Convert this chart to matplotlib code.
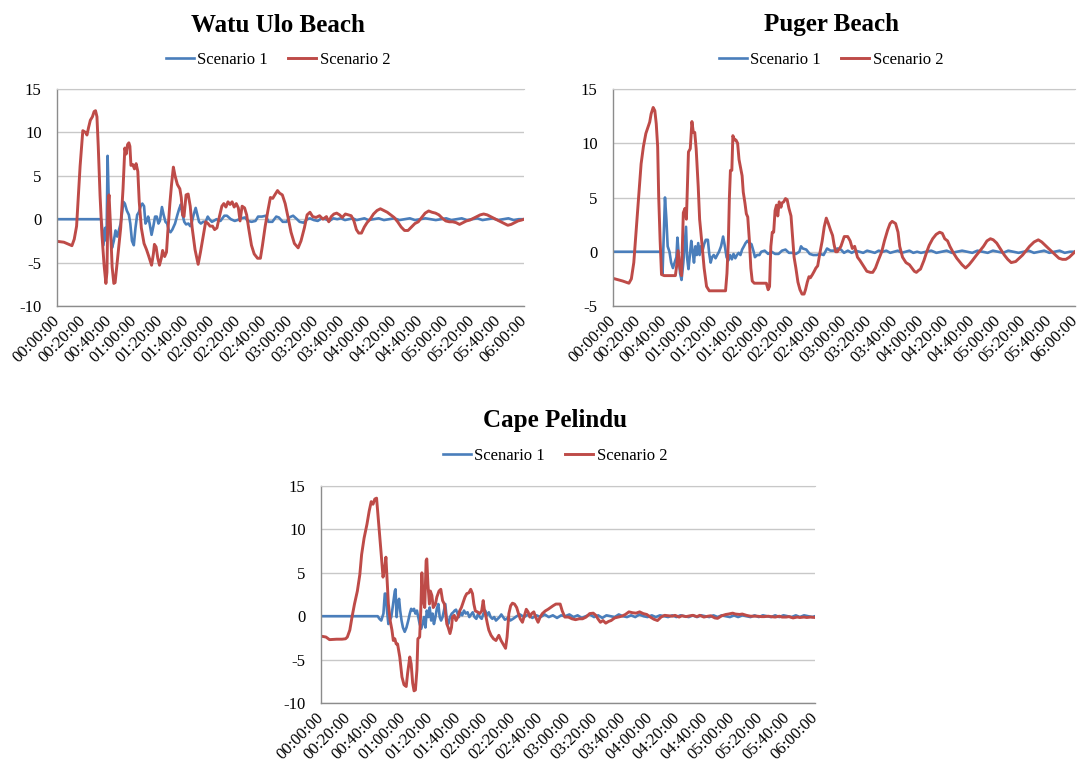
import matplotlib
matplotlib.use("Agg")
import matplotlib.pyplot as plt
import numpy as np

plt.rcParams.update({"font.family": "serif",
                     "font.serif": ["Liberation Serif", "DejaVu Serif"],
                     "axes.unicode_minus": False})

W, H = 1077, 764
BLUE, RED = "#4A7EBB", "#BE4B48"
GRID, AXIS = "#C8C8C8", "#8C8C8C"

# water level (m) against elapsed time (minutes), (t, value) pairs
WATU_S1 = [(0, 0), (34.0, 0), (34.5, -0.5), (35.8, -3.0), (37.1, -1.0), (38.2, -2.5), (39.0, 7.3),
           (40.1, 1.0), (41.1, -1.5), (42.4, -3.3), (43.8, -2.5), (45.1, -1.3), (46.4, -2.0),
           (47.7, -1.3), (49.1, -0.5), (50.4, 1.0), (51.2, 2.0), (52.3, 1.8), (53.8, 1.0), (55.4, 0.5),
           (56.5, -0.5), (57.8, -2.5), (59.2, -3.0), (60.5, -1.0), (61.8, 0.5), (63.1, 0.8), (64.5, 1.5),
           (65.8, 1.8), (67.1, 1.5), (68.2, -0.5), (69.2, -0.2), (70.3, 0.3), (71.4, -0.5), (72.9, -1.8),
           (74.3, -0.8), (75.6, 0.3), (76.9, 0.3), (78.2, -0.5), (79.3, -0.2), (80.9, 1.4), (82.2, 0.5),
           (83.6, -0.3), (84.9, -0.5), (86.2, -1.3), (87.5, -1.5), (88.9, -1.2), (91.0, -0.5),
           (92.8, 0.5), (94.2, 1.2), (95.5, 1.7), (96.8, 0.5), (98.1, -0.3), (99.5, -0.6), (101.3, -0.5),
           (102.7, -0.8), (104.0, -0.3), (105.3, 0.5), (106.9, 1.3), (108.2, 0.5), (109.5, -0.3),
           (110.9, -0.5), (112.7, -0.3), (114.6, -0.3), (116.2, 0.3), (117.5, 0.0), (119.4, -0.3),
           (120.7, -0.2), (123, 0.0), (126, -0.2), (129, 0.4), (131, 0.4), (134, 0.0), (137, -0.2),
           (139, -0.1), (142, 0.1), (145, 0.2), (147, -0.2), (150, -0.3), (153, -0.2), (155, 0.3),
           (158, 0.3), (161, 0.4), (163, -0.3), (166, -0.3), (169, 0.3), (171, 0.2), (174, -0.3),
           (177, -0.3), (179, 0.2), (182, 0.4), (185, 0.0), (187, -0.3), (190, -0.4), (193, 0.0),
           (195, 0.1), (198, -0.1), (201, -0.2), (204, 0.1), (207, 0.0), (210, -0.2), (213, 0.1),
           (216, 0.0), (219, 0.1), (222, -0.1), (225, 0.0), (228, 0.1), (231, -0.1), (234, 0.0),
           (237, 0.1), (240, -0.1), (244, 0.0), (248, 0.1), (252, -0.1), (256, 0.0), (260, 0.1),
           (264, -0.1), (268, 0.0), (272, 0.1), (276, -0.1), (280, 0.0), (284, 0.1), (288, 0.0),
           (292, -0.1), (296, 0.0), (300, 0.1), (304, -0.1), (308, 0.0), (312, 0.1), (316, -0.1),
           (320, 0.0), (324, 0.1), (328, -0.1), (332, 0.0), (336, 0.1), (340, -0.1), (344, 0.0),
           (348, 0.1), (352, -0.1), (356, 0.0), (360, 0.0)]

WATU_S2 = [(0, -2.55), (5.3, -2.65), (9.3, -2.9), (11.5, -3.05), (13.3, -2.3), (15.1, -0.8), (16.7, 3.4),
           (17.8, 6.1), (19.9, 10.2), (22.0, 10.0), (23.1, 9.7), (24.4, 10.6), (25.7, 11.4), (27.3, 11.8),
           (28.6, 12.4), (29.7, 12.5), (30.8, 11.8), (31.8, 8.4), (33.2, 2.7), (34.7, -1.9), (36.3, -5.3),
           (37.7, -7.4), (38.5, -6.1), (39.3, 1.5), (40.1, 2.8), (41.0, 0.0), (42.5, -5.5), (43.8, -7.4),
           (44.8, -7.3), (46.4, -5.0), (49.1, -1.0), (50.9, 3.5), (52.3, 8.2), (53.3, 7.5), (54.4, 8.6),
           (55.4, 8.8), (56.2, 8.4), (57.0, 6.2), (58.4, 6.3), (59.7, 5.8), (61.0, 6.4), (62.3, 5.5),
           (63.4, 2.0), (65.0, -1.0), (67.1, -2.8), (69.0, -3.5), (70.8, -4.3), (72.9, -5.3), (74.3, -4.0),
           (75.1, -2.9), (76.4, -3.2), (77.7, -4.5), (79.0, -5.3), (80.4, -4.5), (81.4, -3.6), (83.0, -4.3),
           (84.4, -3.8), (85.4, -1.5), (87.0, 1.8), (88.3, 4.0), (89.7, 6.0), (91.0, 5.0), (92.8, 4.0),
           (94.7, 3.5), (95.8, 2.5), (96.8, 0.5), (97.9, 0.3), (99.5, 2.8), (101.1, 2.9), (102.7, 1.5),
           (104.2, -1.0), (106.4, -3.5), (108.8, -5.2), (110.6, -3.8), (112.7, -2.0), (114.6, -0.3),
           (116.4, -0.5), (118.0, -0.8), (119.9, -0.8), (121.5, -1.2), (123.3, -1.0), (125.2, 0.3),
           (127.1, 1.5), (128.6, 1.8), (130.2, 1.4), (131.8, 2.0), (133.4, 1.7), (135.0, 2.0), (136.6, 1.4),
           (138.2, 1.8), (139.8, 1.3), (141.1, -0.2), (142.7, 1.5), (144.6, 1.3), (146.2, 0.5),
           (147.7, -1.0), (149.9, -3.0), (152.0, -4.0), (154.6, -4.5), (156.8, -4.5), (158.4, -3.0),
           (160.5, -0.8), (162.6, 1.0), (164.5, 2.5), (166.3, 2.4), (167.9, 2.8), (170.0, 3.3),
           (171.6, 3.0), (173.7, 2.8), (175.9, 1.8), (178.0, 0.3), (180.4, -1.5), (183.0, -2.8),
           (185.9, -3.3), (188.1, -2.5), (190.7, -1.0), (192.8, 0.5), (195.0, 0.8), (197.1, 0.3),
           (199.7, 0.2), (202.4, 0.4), (205.0, 0.0), (207.7, 0.3), (209.5, -0.3), (211.4, 0.3),
           (213.5, 0.6), (215.6, 0.7), (217.8, 0.5), (219.9, 0.2), (222.3, 0.6), (224.7, 0.5),
           (226.8, 0.4), (228.9, -0.2), (230.8, -1.2), (232.6, -1.6), (234.7, -1.6), (236.9, -0.9),
           (239.0, -0.4), (241.4, 0.0), (244.0, 0.6), (246.7, 1.0), (249.3, 1.2), (252.0, 1.0),
           (254.6, 0.8), (257.3, 0.5), (259.9, 0.2), (262.6, -0.3), (265.3, -0.9), (267.9, -1.3),
           (270.6, -1.3), (273.2, -0.9), (275.9, -0.5), (278.5, -0.3), (281.2, 0.2), (283.8, 0.7),
           (286.5, 0.95), (289.1, 0.8), (291.8, 0.7), (294.4, 0.5), (297.1, 0.1), (299.7, -0.2),
           (302.4, -0.3), (305.0, -0.3), (307.7, -0.4), (310.3, -0.6), (313.0, -0.4), (315.6, -0.2),
           (318.3, -0.1), (321.0, 0.1), (323.6, 0.3), (326.3, 0.5), (328.9, 0.6), (331.6, 0.5),
           (334.2, 0.3), (336.9, 0.1), (339.5, -0.1), (342.2, -0.3), (344.8, -0.5), (347.5, -0.7),
           (350.1, -0.6), (352.8, -0.4), (355.4, -0.2), (358.1, -0.1), (360, 0.0)]

PUGER_S1 = [(0, 0), (37.8, 0), (38.6, -2.0), (40.5, 5.0), (41.6, 3.0), (42.6, 0.5), (44.0, 0.0),
            (45.3, -1.0), (46.7, -1.5), (48.0, -1.0), (49.4, -0.5), (50.2, 1.3), (51.3, -0.5),
            (52.3, -2.0), (53.4, -2.6), (54.8, -1.0), (56.9, 2.3), (57.7, -0.5), (58.8, -1.6),
            (60.2, 0.0), (61.0, 1.0), (62.1, 0.0), (63.1, -1.0), (64.2, 0.5), (65.3, -0.3), (66.4, 0.8),
            (67.5, -0.3), (68.5, 0.5), (69.6, 0.0), (71.0, 0.7), (72.3, 1.1), (73.9, 1.1), (75.0, -0.2),
            (76.1, -1.0), (77.2, -0.5), (78.5, -0.3), (79.9, -0.6), (81.2, -0.3), (82.6, 0.0),
            (84.2, 0.5), (85.8, 1.4), (87.2, 0.5), (88.5, -0.5), (89.9, -0.8), (91.2, -0.3),
            (92.6, -0.7), (93.9, -0.2), (95.3, -0.6), (96.6, -0.3), (97.9, -0.1), (99.3, -0.3),
            (100.6, 0.2), (102.0, 0.5), (103.3, 0.8), (104.7, 1.0), (106.3, 0.8), (107.9, 0.7),
            (109.6, 0.0), (110.6, -0.5), (112.3, -0.3), (114.1, -0.3), (115.5, 0.0), (118.2, 0.1),
            (120.9, -0.2), (123.6, 0.0), (126.3, -0.2), (129.0, -0.2), (131.7, 0.1), (134.4, 0.2),
            (137.1, -0.1), (139.8, -0.1), (142.5, -0.2), (145.2, 0.0), (146.5, 0.5), (147.9, 0.3),
            (150.6, 0.2), (153.3, -0.2), (156.0, -0.3), (158.7, -0.3), (161.4, -0.2), (164.1, -0.3),
            (166.8, 0.3), (169.5, 0.1), (172.2, 0.1), (174.8, 0.3), (177.6, 0.2), (180, -0.1),
            (183, 0.1), (186, -0.1), (189, 0.1), (192, 0.0), (195, -0.1), (198, 0.1), (201, 0.0),
            (204, -0.1), (207, 0.1), (210, 0.0), (213, 0.1), (216, -0.1), (219, 0.0), (222, 0.1),
            (225, -0.1), (228, 0.0), (231, 0.1), (234, -0.1), (237, 0.0), (240, -0.1), (244, 0.0),
            (248, 0.1), (252, -0.1), (256, 0.0), (260, 0.1), (264, -0.1), (268, 0.0), (272, 0.1),
            (276, 0.0), (280, -0.1), (284, 0.1), (288, 0.0), (292, -0.1), (296, 0.1), (300, 0.0),
            (304, -0.1), (308, 0.1), (312, 0.0), (316, -0.1), (320, 0.0), (324, 0.1), (328, -0.1),
            (332, 0.0), (336, 0.1), (340, -0.1), (344, 0.0), (348, 0.1), (352, -0.1), (356, 0.0),
            (360, 0.0)]

PUGER_S2 = [(0, -2.45), (7.6, -2.7), (12.4, -2.9), (14.3, -2.5), (16.2, -1.0), (18.3, 2.3), (20.2, 5.4),
            (21.9, 8.1), (23.7, 9.7), (25.6, 10.9), (27.3, 11.5), (28.6, 11.95), (29.7, 12.7),
            (31.3, 13.3), (32.6, 13.0), (33.7, 11.8), (34.8, 9.7), (35.6, 5.1), (36.7, 1.1),
            (37.8, -2.1), (39.9, -2.2), (44.0, -2.2), (48.6, -2.2), (49.6, -1.3), (50.7, 0.1),
            (52.1, -1.5), (53.4, -2.2), (54.8, 3.6), (56.1, 4.0), (57.2, 3.0), (58.8, 9.2), (60.2, 9.5),
            (61.5, 12.0), (62.6, 11.0), (63.7, 11.0), (64.8, 9.5), (66.4, 6.0), (67.5, 3.0), (69.1, 1.0),
            (71.0, -1.5), (72.9, -3.2), (75.0, -3.6), (83.1, -3.6), (87.7, -3.6), (88.8, -2.0),
            (89.9, 1.0), (90.7, 5.0), (91.5, 7.5), (92.6, 7.5), (93.4, 10.7), (94.7, 10.3), (95.8, 10.3),
            (97.1, 10.0), (98.2, 8.5), (99.3, 7.8), (100.6, 7.0), (101.5, 5.5), (102.8, 4.5),
            (103.9, 3.5), (105.0, 3.2), (106.3, 1.0), (107.4, -1.5), (108.5, -2.7), (110.1, -2.9),
            (115.5, -2.9), (119.5, -2.9), (120.9, -3.5), (122.0, -3.2), (123.0, 0.5), (124.1, 1.8),
            (125.2, 1.8), (126.3, 3.8), (127.4, 4.3), (128.4, 3.3), (129.5, 4.6), (130.9, 4.1),
            (131.7, 4.5), (133.0, 4.6), (134.4, 4.9), (135.7, 4.8), (137.1, 4.0), (138.7, 3.3),
            (139.8, 1.5), (141.1, -0.5), (142.5, -1.5), (144.1, -2.8), (145.7, -3.5), (147.3, -3.9),
            (148.9, -3.9), (150.0, -3.5), (151.4, -2.8), (152.7, -2.3), (153.8, -2.4), (155.4, -2.1),
            (156.8, -1.8), (158.1, -1.5), (159.5, -1.3), (161.4, 0.0), (163.0, 1.0), (164.6, 2.3),
            (166.2, 3.1), (167.8, 2.6), (169.5, 2.0), (171.1, 1.5), (172.2, 0.7), (173.5, 0.0),
            (174.8, 0.0), (177.6, 0.5), (180.2, 1.4), (182.9, 1.4), (184.8, 1.0), (186.5, 0.3),
            (188.3, 0.5), (190.5, -0.5), (192.4, -0.8), (195.1, -1.3), (197.8, -1.8), (200.5, -1.9),
            (202.4, -1.9), (204.5, -1.5), (206.7, -0.8), (209.4, 0.0), (211.5, 1.0), (214.0, 2.0),
            (215.9, 2.6), (217.5, 2.8), (220.2, 2.6), (222.1, 1.8), (223.4, 0.5), (225.6, -0.5),
            (228.3, -1.0), (231.0, -1.2), (232.9, -1.5), (234.8, -1.8), (236.4, -1.9), (238.3, -1.7),
            (239.6, -1.6), (242.3, -0.8), (244.5, 0.0), (246.4, 0.6), (249.1, 1.2), (251.8, 1.6),
            (254.5, 1.8), (256.6, 1.7), (258.5, 1.2), (260.7, 1.0), (262.5, 0.5), (265.2, -0.1),
            (267.9, -0.6), (272.0, -1.2), (274.7, -1.5), (277.4, -1.2), (280.1, -0.8), (283.3, -0.3),
            (286.0, 0.1), (288.7, 0.5), (291.4, 1.0), (294.1, 1.2), (296.3, 1.1), (299.0, 0.8),
            (301.7, 0.3), (304.9, -0.3), (307.6, -0.7), (310.3, -1.0), (313.8, -0.9), (316.5, -0.6),
            (319.2, -0.3), (321.9, 0.1), (324.6, 0.5), (328.1, 0.9), (331.4, 1.1), (334.1, 0.9),
            (336.7, 0.6), (339.4, 0.3), (342.1, 0.0), (344.8, -0.3), (347.5, -0.6), (350.2, -0.7),
            (352.9, -0.7), (355.6, -0.5), (358.3, -0.2), (360, 0.0)]

PELINDU_S1 = [(0, 0), (41.3, 0), (42.6, -0.3), (43.9, -0.5), (45.5, 0.3), (46.5, 2.6), (47.3, 2.6),
              (48.1, 0.65), (49.1, -0.9), (50.1, -0.5), (51.2, -0.1), (52.2, 1.0), (53.8, 2.9),
              (54.3, 3.1), (55.1, -0.1), (55.8, 1.4), (56.9, 2.0), (57.7, 0.65), (58.7, -0.5),
              (59.7, -1.3), (61.0, -1.8), (62.3, -1.3), (63.6, -0.5), (64.7, 0.3), (65.7, 0.85),
              (66.8, 0.65), (67.8, 0.85), (68.8, 0.3), (69.9, 0.65), (70.9, -0.1), (71.9, -0.9),
              (73.0, -1.45), (74.0, -0.9), (75.1, -0.1), (76.1, -1.3), (77.1, 0.65), (78.2, -0.1),
              (79.2, 1.0), (80.3, -0.5), (81.3, 0.3), (82.3, -0.9), (83.4, -0.1), (84.4, 0.85),
              (85.5, 1.4), (86.5, -0.1), (87.5, -0.5), (88.6, -0.1), (89.6, 0.65), (90.6, 1.4),
              (91.7, -0.5), (92.7, -0.9), (94.0, -0.1), (95.3, 0.3), (96.4, 0.45), (97.4, 0.65),
              (98.4, 0.75), (99.5, 0.3), (100.5, -0.1), (101.6, 0.45), (102.9, 0.1), (104.2, 0.65),
              (105.5, 0.3), (106.8, 0.45), (108.1, -0.1), (109.4, 0.2), (110.6, 0.45), (111.9, -0.1),
              (113.2, -0.3), (114.5, 0.3), (115.8, -0.1), (117.1, -0.3), (118.4, 0.3), (119.7, 0.65),
              (121.0, 0.1), (122.3, 0.45), (123.6, -0.1), (124.9, -0.3), (126.2, -0.1), (127.5, -0.5),
              (128.8, -0.3), (130.1, -0.1), (131.4, 0.2), (132.7, -0.1), (134.0, -0.4), (135.3, -0.3),
              (136.6, -0.1), (137.9, -0.5), (140.0, -0.3), (142.6, 0.0), (145, 0.2), (148, -0.1),
              (151, 0.2), (154, -0.2), (157, 0.1), (160, -0.1), (163, 0.2), (166, -0.1), (169, 0.1),
              (172, -0.2), (175, 0.1), (178, 0.0), (181, 0.2), (184, -0.1), (187, 0.1), (190, -0.2),
              (193, 0.0), (196, 0.2), (199, -0.1), (202, 0.1), (205, -0.2), (208, 0.1), (211, 0.0),
              (214, -0.1), (217, 0.2), (220, 0.0), (223, -0.1), (226, 0.1), (229, -0.1), (232, 0.2),
              (235, 0.0), (238, -0.1), (241, 0.1), (244, -0.1), (247, 0.1), (250, 0.0), (253, -0.1),
              (256, 0.1), (259, -0.1), (262, 0.1), (265, 0.0), (268, -0.1), (271, 0.1), (274, -0.1),
              (277, 0.1), (280, 0.0), (283, -0.1), (286, 0.1), (289, -0.1), (292, 0.1), (295, 0.0),
              (298, -0.1), (301, 0.1), (304, -0.1), (307, 0.1), (310, 0.0), (313, -0.1), (316, 0.1),
              (319, -0.1), (322, 0.1), (325, 0.0), (328, -0.1), (331, 0.1), (334, -0.1), (337, 0.1),
              (340, 0.0), (343, -0.1), (346, 0.1), (349, -0.1), (352, 0.1), (355, 0.0), (358, -0.1),
              (360, 0.0)]

PELINDU_S2 = [(0, -2.3), (3.6, -2.4), (6.2, -2.7), (11.4, -2.65), (15.3, -2.65), (17.9, -2.6),
              (19.2, -2.4), (21.0, -1.6), (22.6, -0.1), (24.4, 1.4), (26.5, 2.9), (28.3, 4.8),
              (29.6, 7.1), (31.4, 9.0), (33.5, 10.6), (35.1, 12.1), (36.6, 13.2), (37.9, 12.9),
              (39.2, 13.5), (40.5, 13.6), (41.3, 12.1), (42.6, 9.8), (43.9, 7.1), (45.2, 4.5),
              (46.5, 5.6), (47.3, 6.8), (48.1, 4.5), (49.1, 1.4), (50.4, -0.5), (51.7, -1.6),
              (52.7, -2.8), (53.8, -2.6), (54.8, -3.2), (55.8, -3.2), (57.4, -4.7), (59.0, -7.0),
              (60.5, -7.9), (62.1, -8.1), (63.1, -6.6), (64.7, -4.7), (65.7, -5.5), (66.8, -7.7),
              (67.8, -8.6), (68.8, -8.5), (69.9, -6.2), (70.6, -2.6), (71.9, -2.4), (72.7, 0.6),
              (73.5, 5.0), (74.5, 1.8), (75.6, 1.0), (76.6, 6.4), (77.1, 6.6), (77.9, 3.7), (79.0, 1.4),
              (79.7, 2.9), (80.8, 2.4), (81.8, 1.0), (83.4, 1.4), (84.4, 2.2), (86.0, 2.9), (87.3, 3.1),
              (88.6, 1.8), (89.9, 1.4), (90.6, 0.6), (91.7, -0.9), (92.7, -1.3), (94.0, -2.0),
              (95.1, -1.3), (95.8, -0.1), (97.1, 0.1), (98.4, -0.5), (99.7, -0.1), (101.0, 0.6),
              (102.3, 1.0), (103.6, 1.6), (104.9, 2.2), (106.2, 2.6), (107.8, 2.7), (109.1, 3.1),
              (110.4, 2.6), (111.4, 1.4), (112.5, 0.6), (114.0, 0.5), (115.6, 0.3), (117.1, 0.6),
              (118.2, 1.8), (119.2, 0.6), (120.3, -0.1), (121.3, -0.9), (122.3, -1.6), (123.9, -2.2),
              (125.7, -2.6), (127.5, -2.8), (129.6, -2.2), (131.2, -2.8), (132.7, -3.2), (134.5, -3.7),
              (135.6, -2.4), (136.9, 0.3), (138.2, 1.2), (139.5, 1.5), (141.0, 1.4), (142.6, 1.0),
              (143.9, 0.3), (145.2, -0.3), (146.8, -0.7), (148.3, 0.1), (149.6, 0.8), (150.9, 0.5),
              (152.2, -0.1), (153.5, 0.3), (155.1, 0.5), (156.4, -0.1), (158.2, -0.7), (159.7, -0.1),
              (161.3, 0.3), (163.4, 0.6), (165.5, 0.8), (167.3, 1.0), (169.1, 1.2), (171.2, 1.4),
              (172.7, 1.4), (174.3, 1.4), (175.8, 0.6), (177.7, -0.1), (180.3, -0.1), (182.9, -0.3),
              (185.5, -0.4), (188.1, -0.3), (190.6, -0.3), (193.2, -0.1), (195.8, 0.3), (198.4, 0.35),
              (200.3, 0.1), (201.8, -0.3), (203.6, -0.7), (205.5, -0.5), (207.5, -0.8), (209.6, -0.6),
              (211.4, -0.5), (214.0, -0.2), (216.6, -0.1), (219.2, 0.0), (221.8, 0.2), (224.4, 0.5),
              (227.0, 0.4), (229.6, 0.35), (232.2, 0.5), (234.8, 0.3), (237.4, 0.2), (240.0, -0.1),
              (242.6, -0.35), (245.2, -0.5), (247.8, -0.1), (250.4, 0.1), (253, 0.05), (256, 0.0),
              (258, 0.1), (261, -0.1), (263, 0.05), (266, -0.05), (269, 0.05), (271, 0.1), (274, -0.05),
              (276, 0.1), (279, -0.1), (282, 0.0), (284, 0.05), (287, -0.2), (289, -0.25), (292, 0.05),
              (295, 0.2), (297, 0.25), (300, 0.35), (302, 0.25), (305, 0.2), (307, 0.25), (310, 0.1),
              (313, 0.0), (315, 0.0), (318, 0.0), (321, -0.05), (323, -0.05), (326, 0.0), (328, -0.05),
              (331, -0.1), (334, 0.0), (336, -0.1), (339, -0.1), (341, -0.05), (344, -0.2), (347, -0.1),
              (349, -0.15), (352, -0.1), (354, -0.15), (357, -0.1), (360, -0.15)]

TICK_MIN = list(range(0, 361, 20))
TICK_LABELS = [f"{m // 60:02d}:{m % 60:02d}:00" for m in TICK_MIN]


def rect(l, t, r, b):
    return [l / W, 1 - b / H, (r - l) / W, (b - t) / H]


def panel(fig, box, s1, s2, ylim, title, cx, ty, ly):
    ax = fig.add_axes(rect(*box))
    t1, v1 = np.array(s1).T
    t2, v2 = np.array(s2).T
    ax.plot(t1, v1, color=BLUE, lw=1.9, label="Scenario 1", solid_joinstyle="round")
    ax.plot(t2, v2, color=RED, lw=2.1, label="Scenario 2", solid_joinstyle="round")
    ax.set_xlim(0, 360); ax.set_ylim(*ylim)
    ax.set_yticks(range(ylim[0], ylim[1] + 1, 5))
    ax.set_xticks(TICK_MIN)
    ax.set_xticklabels(TICK_LABELS, rotation=45, ha="right", va="center", rotation_mode="anchor")
    ax.grid(axis="y", color=GRID, lw=1.0)
    ax.set_axisbelow(True)
    ax.spines["right"].set_visible(False)
    ax.spines["top"].set_color(GRID)
    for s in ("left", "bottom"):
        ax.spines[s].set_color(AXIS); ax.spines[s].set_linewidth(1.0)
    ax.tick_params(axis="y", length=0, labelsize=12, pad=11)
    ax.tick_params(axis="x", length=0, labelsize=12, pad=9)
    fig.text(cx / W, 1 - ty / H, title, ha="center", va="center", fontsize=18, fontweight="bold")
    ax.legend(loc="center", bbox_to_anchor=(cx / W, 1 - ly / H), bbox_transform=fig.transFigure,
              ncol=2, frameon=False, fontsize=12, handlelength=1.7, handletextpad=0.2,
              columnspacing=1.2, borderpad=0)
    return ax


fig = plt.figure(figsize=(W / 100, H / 100), dpi=100)
panel(fig, (57, 89, 524, 306), WATU_S1, WATU_S2, (-10, 15), "Watu Ulo Beach", 278, 25, 60)
panel(fig, (613, 89, 1075, 306), PUGER_S1, PUGER_S2, (-5, 15), "Puger Beach", 831, 25, 60)
panel(fig, (321, 486, 815, 703), PELINDU_S1, PELINDU_S2, (-10, 15), "Cape Pelindu", 555, 421, 456)
fig.savefig("out.png", dpi=100)
